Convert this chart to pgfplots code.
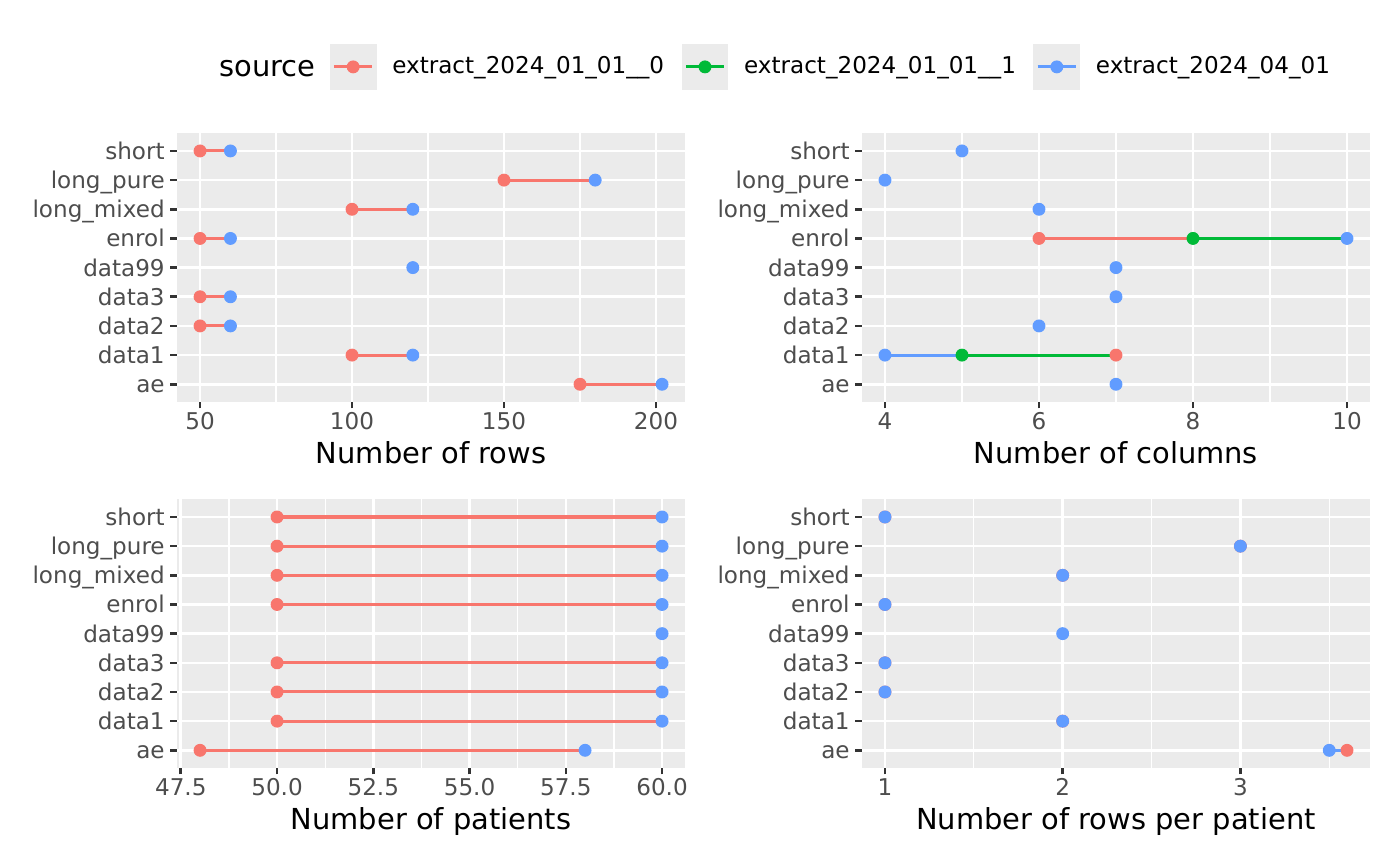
\documentclass[border=0pt]{standalone}
\usepackage{pgfplots}
\pgfplotsset{compat=1.18}
\usepackage{fontspec}
\setmainfont{DejaVu Sans}

\definecolor{cr}{HTML}{F8766D}
\definecolor{cg}{HTML}{00BA38}
\definecolor{cb}{HTML}{619CFF}
\definecolor{bg}{HTML}{EBEBEB}
\definecolor{labc}{HTML}{4D4D4D}
\definecolor{tickc}{HTML}{333333}

\pgfplotsset{
  gg/.style={
    scale only axis, width=209.1pt, height=110.4pt,
    axis background/.style={fill=bg},
    axis line style={draw=none},
    tick pos=left, tick align=outside,
    major tick length=2.75pt, minor tick length=0pt,
    tick style={draw=tickc, line width=1.07pt},
    grid=both,
    major grid style={white, line width=1.07pt},
    minor grid style={white, line width=0.53pt},
    ymin=-0.6, ymax=8.6, ytick={0,...,8},
    yticklabels={ae,data1,data2,data3,data99,enrol,long\_mixed,long\_pure,short},
    tick label style={font=\fontsize{9.5}{11}\selectfont, text=labc},
    yticklabel style={anchor=base east, inner sep=0pt, xshift=-2.1pt, yshift=-3.5pt},
    xticklabel style={anchor=base, inner sep=0pt, yshift=-8.8pt},
    xlabel style={font=\fontsize{11.9}{14}\selectfont, at={(axis description cs:0.5,0)},
      anchor=base, inner sep=0pt, yshift=-25.3pt},
    /pgf/number format/assume math mode=true,
    unbounded coords=jump,
  },
  pts/.style={only marks, mark=*, mark size=2.45pt, mark options={draw=none}, color=#1},
  seg/.style={no marks, line width=1.25pt, color=#1},
  lkey/.style={color=#1, legend image code/.code={
      \fill[bg] (0pt,-9.4pt) rectangle (18.8pt,9.4pt);
      \draw[line width=1.25pt] (1.5pt,0pt) -- (17.3pt,0pt);
      \fill (9.4pt,0pt) circle (2.45pt);
      \path (25.3pt,0pt);
  }},
}

\begin{document}
\begin{tikzpicture}
\path (0,0) rectangle (576pt,356.3pt);
\node[anchor=base west, inner sep=0pt, font=\fontsize{11.9}{14}\selectfont] at (90.1pt,324.7pt) {source};

% rows
\begin{axis}[gg, at={(72.8pt,191pt)},
    xmin=42.4, xmax=209.6, xtick={50,100,150,200}, minor xtick={75,125,175},
    xlabel={Number of rows},
    legend columns=3,
    legend style={draw=none, fill=none, inner sep=0pt, column sep=0pt,
      at={(0.2999,1.248)}, anchor=west,
      nodes={inner sep=0pt, font=\fontsize{9.5}{11}\selectfont},
      /tikz/every even column/.append style={column sep=7.2pt}},
  ]
  \addlegendimage{lkey=cr}\addlegendentry{extract\_2024\_01\_01\_\_0}
  \addlegendimage{lkey=cg}\addlegendentry{extract\_2024\_01\_01\_\_1}
  \addlegendimage{lkey=cb}\addlegendentry{extract\_2024\_04\_01}
  \addplot[pts=cr, forget plot] coordinates {
    (50,8) (150,7) (100,6) (50,5) (50,3) (50,2) (100,1) (175,0)};
  \addplot[pts=cb, forget plot] coordinates {
    (60,8) (180,7) (120,6) (60,5) (120,4) (60,3) (60,2) (120,1) (202,0)};
  \addplot[seg=cr, forget plot] coordinates {
    (50,8) (60,8) (nan,nan)
    (150,7) (180,7) (nan,nan)
    (100,6) (120,6) (nan,nan)
    (50,5) (60,5) (nan,nan)
    (50,3) (60,3) (nan,nan)
    (50,2) (60,2) (nan,nan)
    (100,1) (120,1) (nan,nan)
    (175,0) (202,0)};
\end{axis}

% columns
\begin{axis}[gg, at={(354.6pt,191pt)},
    xmin=3.7, xmax=10.3, xtick={4,6,8,10}, minor xtick={5,7,9},
    xlabel={Number of columns}]
  \addplot[pts=cr] coordinates {(6,5) (7,1)};
  \addplot[pts=cg] coordinates {(8,5) (5,1)};
  \addplot[pts=cb] coordinates {
    (5,8) (4,7) (6,6) (10,5) (7,4) (7,3) (6,2) (4,1) (7,0)};
  \addplot[seg=cr] coordinates {(6,5) (8,5)};
  \addplot[seg=cg] coordinates {(8,5) (10,5) (nan,nan) (5,1) (7,1)};
  \addplot[seg=cb] coordinates {(4,1) (5,1)};
\end{axis}

% patients
\begin{axis}[gg, at={(72.8pt,40.4pt)},
    xmin=47.4, xmax=60.6, xtick={47.5,50,52.5,55,57.5,60},
    minor xtick={48.75,51.25,53.75,56.25,58.75},
    xticklabel style={/pgf/number format/.cd, fixed, fixed zerofill, precision=1},
    xlabel={Number of patients}]
  \addplot[pts=cr] coordinates {
    (50,8) (50,7) (50,6) (50,5) (50,3) (50,2) (50,1) (48,0)};
  \addplot[pts=cb] coordinates {
    (60,8) (60,7) (60,6) (60,5) (60,4) (60,3) (60,2) (60,1) (58,0)};
  \addplot[seg=cr] coordinates {
    (50,8) (60,8) (nan,nan)
    (50,7) (60,7) (nan,nan)
    (50,6) (60,6) (nan,nan)
    (50,5) (60,5) (nan,nan)
    (50,3) (60,3) (nan,nan)
    (50,2) (60,2) (nan,nan)
    (50,1) (60,1) (nan,nan)
    (48,0) (58,0)};
\end{axis}

% rows per patient
\begin{axis}[gg, at={(354.6pt,40.4pt)},
    xmin=0.87, xmax=3.73, xtick={1,2,3}, minor xtick={1.5,2.5,3.5},
    xlabel={Number of rows per patient}]
  \addplot[pts=cr] coordinates {
    (1,8) (3,7) (2,6) (1,5) (1,3) (1,2) (2,1) (3.6,0)};
  \addplot[pts=cb] coordinates {
    (1,8) (3,7) (2,6) (1,5) (2,4) (1,3) (1,2) (2,1) (3.5,0)};
  \addplot[seg=cb] coordinates {(3.5,0) (3.6,0)};
\end{axis}
\end{tikzpicture}
\end{document}
